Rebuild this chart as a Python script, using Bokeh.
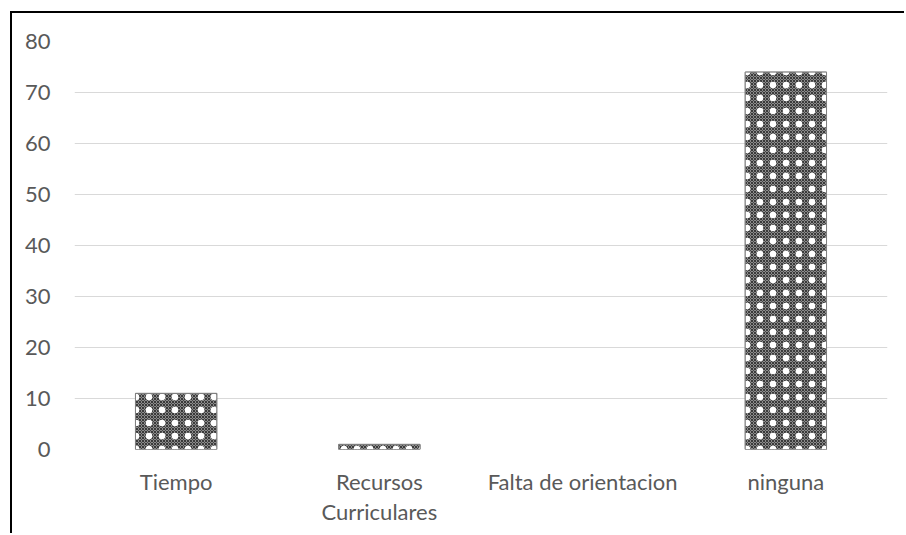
from bokeh.plotting import figure
from bokeh.models import FactorRange, Range1d, FixedTicker
from bokeh.embed import file_html
from bokeh.resources import INLINE

categories = ["Tiempo", "Recursos\nCurriculares", "Falta de orientacion", "ninguna"]
values = [11, 1, 0, 74]
y_ticks = [0, 10, 20, 30, 40, 50, 60, 70, 80]

FONT = "Lato"
TXT = "#595959"

p = figure(width=894, height=522, x_range=FactorRange(factors=categories),
           y_range=Range1d(0, 80), output_backend="svg", toolbar_location=None,
           min_border_left=62, min_border_right=19, min_border_top=28, min_border_bottom=86)
p.styles = {"border-top": "2px solid black", "border-left": "2px solid black",
            "margin-left": "10px", "margin-top": "11px"}
p.outline_line_color = None
p.background_fill_color = "white"

outline_alpha = [1.0 if v > 0 else 0.0 for v in values]
p.vbar(x=categories, top=values, width=0.4, bottom=0,
       fill_color="#8c8c8c", line_color="#7f7f7f", line_width=1, line_alpha=outline_alpha,
       hatch_pattern="x", hatch_color="#3a3a3a", hatch_scale=3, hatch_weight=1)
p.vbar(x=categories, top=values, width=0.4, bottom=0,
       fill_color=None, line_color="#7f7f7f", line_width=1, line_alpha=outline_alpha,
       hatch_pattern=".", hatch_color="white", hatch_scale=13, hatch_weight=1.5)

p.xgrid.grid_line_color = None
p.ygrid.grid_line_color = "#d9d9d9"
p.ygrid.grid_line_width = 1
p.yaxis.ticker = FixedTicker(ticks=y_ticks)

for ax in (p.xaxis, p.yaxis):
    ax.axis_line_color = None
    ax.major_tick_line_color = None
    ax.minor_tick_line_color = None
    ax.major_label_text_font = FONT
    ax.major_label_text_font_size = "22px"
    ax.major_label_text_color = TXT
    ax.major_label_text_line_height = 1.12
p.yaxis.major_label_standoff = 18
p.xaxis.major_label_standoff = 12

open("out.html", "w").write(file_html(p, INLINE))
